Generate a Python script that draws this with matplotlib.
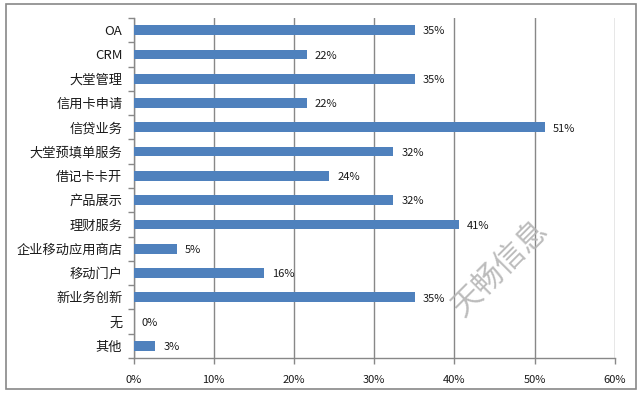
import matplotlib
matplotlib.use("Agg")
import matplotlib.pyplot as plt
import numpy as np

plt.rcParams['font.family'] = ['Noto Sans CJK SC', 'DejaVu Sans']

categories = ["OA", "CRM", "大堂管理", "信用卡申请", "信贷业务", "大堂预填单服务", "借记卡卡开",
              "产品展示", "理财服务", "企业移动应用商店", "移动门户", "新业务创新", "无", "其他"]
values = [35.1, 21.6, 35.1, 21.6, 51.3, 32.4, 24.4, 32.4, 40.6, 5.4, 16.3, 35.1, 0.0, 2.7]
xticks = [0, 10, 20, 30, 40, 50, 60]

fig = plt.figure(figsize=(6.44, 3.96), dpi=100)
# outer chart border
fig.patches.append(plt.Rectangle((6/644, 1-389/396), 630/644, 385/396, transform=fig.transFigure,
                                 fill=False, edgecolor='#888888', linewidth=1.2))
ax = fig.add_axes([133.5/644, 1-358/396, (614.7-133.5)/644, (358-18)/396])

n = len(categories)
y = np.arange(n)
ax.barh(y, values, height=0.4, color='#4F81BD', zorder=3)
for yi, v in zip(y, values):
    ax.text(v + 1.0, yi + 0.05, f"{round(v):d}%", va='center', ha='left', fontsize=8,
            color='#1a1a1a', zorder=4)

ax.set_ylim(n - 0.5, -0.5)
ax.set_xlim(0, 60)
ax.set_yticks(y)
ax.set_yticklabels(categories, fontsize=9.5, color='#1a1a1a')
ax.set_yticks(np.arange(-0.5, n + 0.5, 1), minor=True)
ax.tick_params(axis='y', which='major', length=0, pad=8)
ax.tick_params(axis='y', which='minor', length=4, color='#888888', width=1)
ax.set_xticks(xticks)
ax.set_xticklabels([f"{t}%" for t in xticks], fontsize=8, color='#1a1a1a')
ax.tick_params(axis='x', length=4, color='#888888', width=1, pad=8)
ax.grid(axis='x', color='#888888', linewidth=1, zorder=0)
for s in ['top', 'right']:
    ax.spines[s].set_visible(False)
for s in ['left', 'bottom']:
    ax.spines[s].set_color('#888888')
    ax.spines[s].set_linewidth(1)

fig.text(500/644, 1-268/396, "天畅信息", rotation=45, fontsize=22, color='#b5b5b5',
         ha='center', va='center', style='italic', alpha=0.9)

fig.savefig("out.png", dpi=100)
